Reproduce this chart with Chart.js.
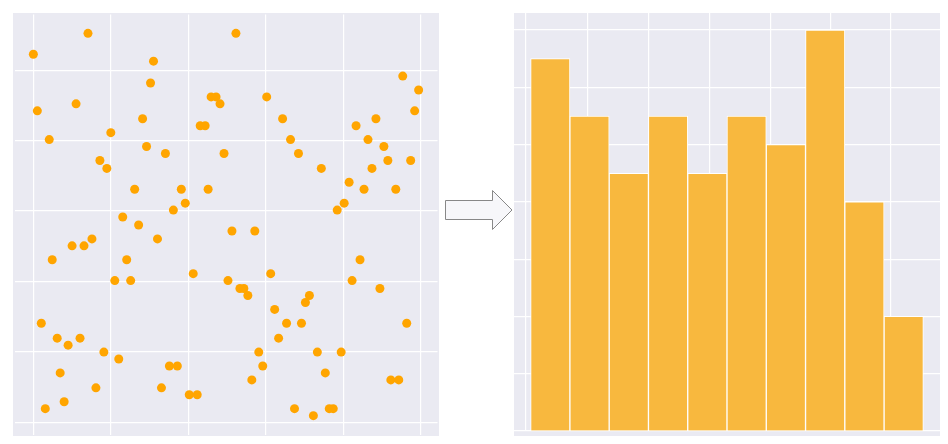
<!DOCTYPE html>
<html>
<head>
<meta charset="utf-8">
<script src="https://cdn.jsdelivr.net/npm/chart.js"></script>
<style>
  html, body { margin: 0; padding: 0; background: #fff; }
  body { width: 948px; height: 444px; position: relative; overflow: hidden; }
  .panel { position: absolute; background: #eaeaf2; }
  #left { left: 13px; top: 13px; width: 426px; height: 423px; }
  #right { left: 514px; top: 13px; width: 426px; height: 423px; }
  .wrap { position: absolute; left: -3px; top: -3px; right: -3px; bottom: -3px; }
  #arrow { position: absolute; left: 440px; top: 185px; }
</style>
</head>
<body>
<div class="panel" id="left"><div class="wrap"><canvas id="scatterChart"></canvas></div></div>
<svg id="arrow" width="76" height="50">
  <path d="M5.5 15.5 H52.5 V5.5 L72 25 L52.5 44.5 V34.5 H5.5 Z" fill="#f7f7fa" stroke="#888" stroke-width="1"/>
</svg>
<div class="panel" id="right"><div class="wrap"><canvas id="histChart"></canvas></div></div>
<script>
// scatter points
var xVals = [0,55,4,43,16,121,118,78,110,114,133,67,74,102,149,153,141,176,90,106,
             125,59,39,51,19,94,82,98,161,8,24,35,47,71,86,27,63,12,31,137,
             145,129,157,165,179,184,188,168,173,192,200,196,204,235,251,259,267,290,223,208,
             212,216,239,243,255,270,247,274,278,227,231,220,286,310,294,263,282,298,302,321,
             329,349,376,360,368,306,313,318,333,341,357,365,380,353,337,325,345,372,388,384];
var yVals = [371,392,314,321,285,364,342,292,306,278,271,264,256,235,235,221,214,235,207,199,
             185,185,178,178,164,164,143,143,150,100,85,78,85,71,64,50,35,14,21,57,
             57,35,28,28,328,328,321,299,299,271,193,143,392,328,306,285,271,256,193,135,
             135,128,150,114,100,100,85,121,128,71,57,43,71,71,50,14,7,14,14,143,
             164,135,100,43,43,214,221,242,235,256,264,235,264,278,285,299,306,349,335,314];

// histogram: bins with one empty slot on each side
var binLabels = ["", "b1", "b2", "b3", "b4", "b5", "b6", "b7", "b8", "b9", "b10", ""];
var counts = [null, 13, 11, 9, 11, 9, 11, 10, 14, 8, 4, null];

var xRange = [-19, 407];
var scatterXTicks = [0, 78, 156, 234, 312, 390];
var scatterYTicks = [0, 71, 142, 213, 284, 355];
var histXTicks = [-8, 65, 138, 210, 281, 352];
var histYTicks = [0, 2, 4, 6, 8, 10, 12, 14];

function axis(min, max, ticks) {
    return {
        type: "linear", min: min, max: max,
        border: { display: false },
        grid: { color: "#ffffff", lineWidth: 1.2, drawTicks: false },
        ticks: { display: false },
        afterBuildTicks: function (s) { s.ticks = ticks.map(function (v) { return { value: v }; }); }
    };
}

var common = {
    responsive: true, maintainAspectRatio: false, animation: false,
    layout: { padding: 0 },
    plugins: { legend: { display: false }, tooltip: { enabled: false } }
};

new Chart(document.getElementById("scatterChart"), {
    type: "scatter",
    data: {
        datasets: [{
            data: xVals.map(function (x, i) { return { x: x, y: yVals[i] }; }),
            backgroundColor: "#ffa500",
            borderColor: "#ffa500",
            pointRadius: 4.5,
            borderWidth: 0
        }]
    },
    options: Object.assign({}, common, {
        scales: { x: axis(xRange[0], xRange[1], scatterXTicks), y: axis(-12, 411, scatterYTicks) }
    })
});

var gridX = axis(xRange[0], xRange[1], histXTicks);
gridX.position = "bottom";

new Chart(document.getElementById("histChart"), {
    type: "bar",
    data: {
        labels: binLabels,
        datasets: [{
            data: counts,
            xAxisID: "x",
            backgroundColor: "#f8b83e",
            borderColor: "#ffffff",
            borderWidth: 1,
            barPercentage: 1,
            categoryPercentage: 1
        }]
    },
    options: Object.assign({}, common, {
        scales: {
            x: { type: "category", offset: false, display: true, border: { display: false },
                 grid: { display: false }, ticks: { display: false } },
            xg: gridX,
            y: axis(0, 14.7, histYTicks)
        }
    })
});
</script>
</body>
</html>
